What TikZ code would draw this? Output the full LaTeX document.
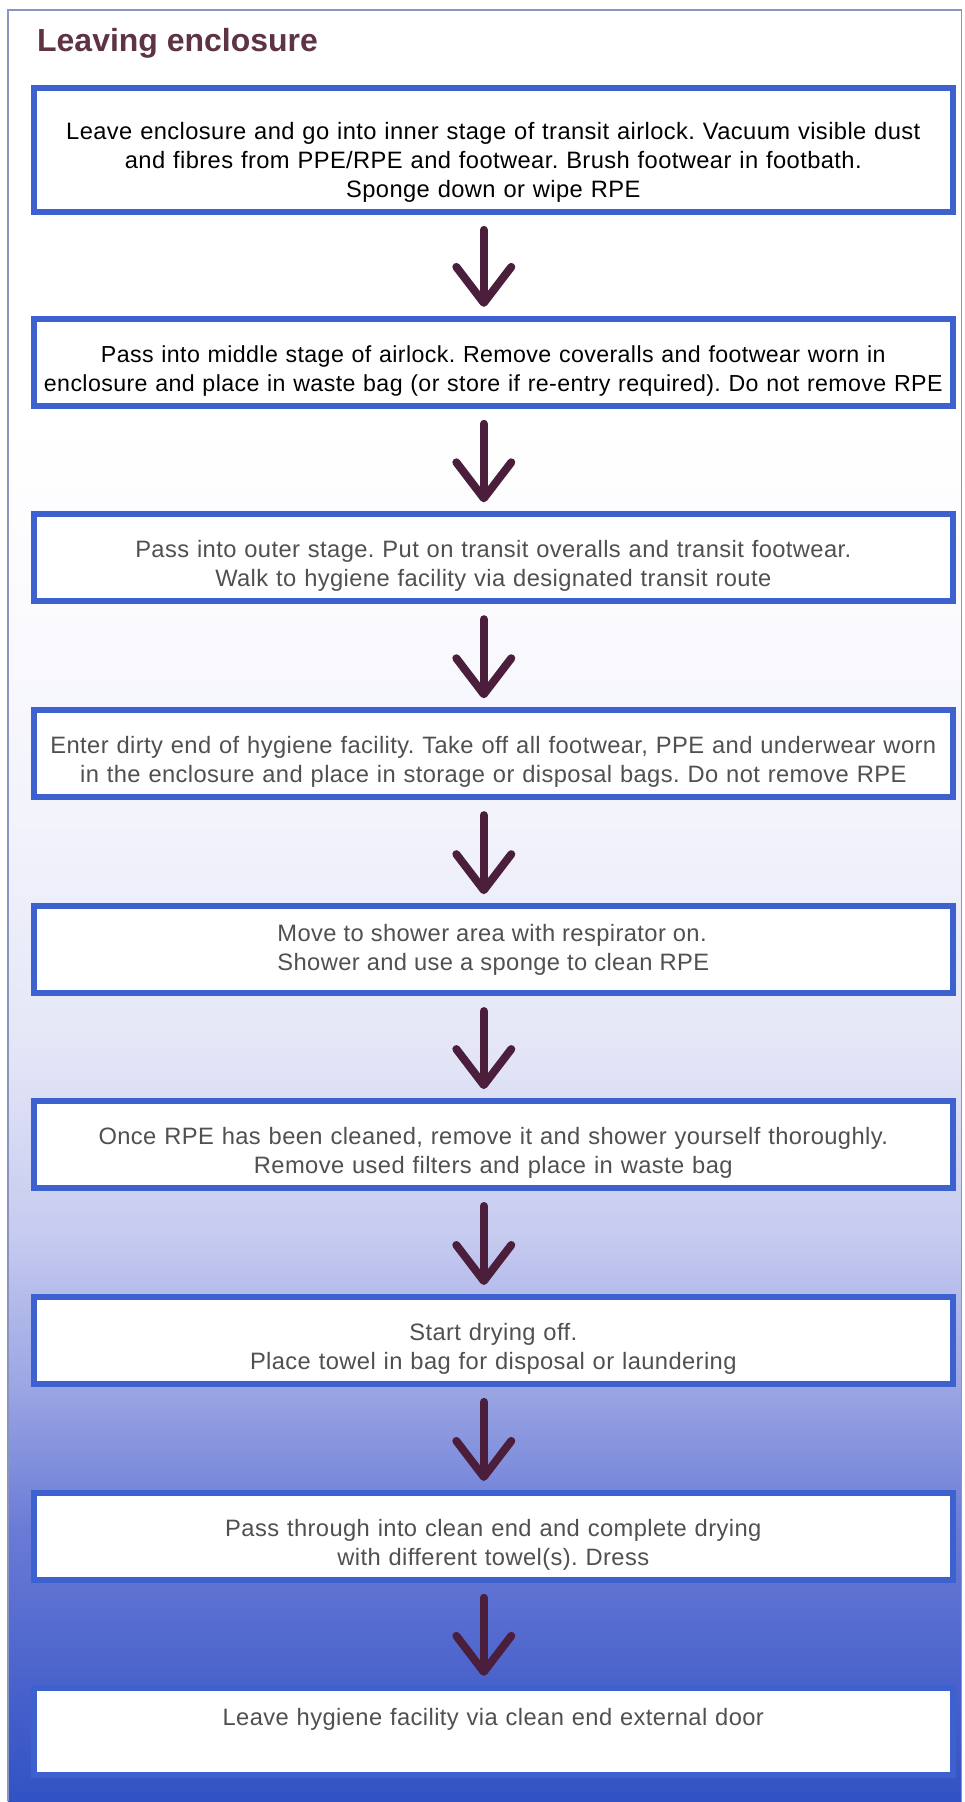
\documentclass[tikz,border=0pt]{standalone}
\usepackage{fontspec}
\setmainfont{Liberation Sans}
\newfontfamily\stepfont{Liberation Sans}[LetterSpace=1.7]
\usetikzlibrary{positioning}
\usetikzlibrary{arrows.meta}

\definecolor{boxblue}{HTML}{3D62D0}
\definecolor{arrowplum}{HTML}{4B1E3C}
\definecolor{titleplum}{HTML}{5E3345}
\definecolor{stepgray}{HTML}{505050}
\definecolor{framegray}{HTML}{8A95C0}
\definecolor{fadeA}{HTML}{3152C4}
\definecolor{fadeB}{HTML}{4A63CC}
\definecolor{fadeC}{HTML}{6A7BD6}
\definecolor{fadeD}{HTML}{9AA5E3}
\definecolor{fadeE}{HTML}{C5CAEF}
\definecolor{fadeF}{HTML}{E4E6F7}
\definecolor{fadeG}{HTML}{F2F3FB}
\definecolor{fadeH}{HTML}{FBFBFE}

% the path box is mapped onto 25bp..75bp of the shading
\pgfdeclareverticalshading{bgfade}{100bp}{color(0bp)=(fadeA); color(25bp)=(fadeA);
  color(28.4bp)=(fadeB); color(32.6bp)=(fadeC); color(36.5bp)=(fadeD);
  color(40.7bp)=(fadeE); color(46bp)=(fadeF); color(52.4bp)=(fadeG);
  color(58.5bp)=(fadeH); color(63.6bp)=(white); color(100bp)=(white)}

\begin{document}
\frenchspacing
\begin{tikzpicture}[x=0.02cm, y=-0.02cm,
  stepbox/.style={draw=boxblue, line width=0.12cm, fill=white, minimum width=18.38cm,
    text width=18.3cm, align=center, inner sep=0pt, font=\stepfont\fontsize{13.5}{16.5}\selectfont},
  tallbox/.style={stepbox, minimum height=2.48cm, execute at begin node=\rule{0pt}{23.5pt}},
  shortbox/.style={stepbox, minimum height=1.74cm},
  padded/.style={execute at begin node=\rule{0pt}{19pt}},
  greytext/.style={text=stepgray},
  flowarrow/.style={draw=arrowplum, line width=0.16cm, line cap=round,
    -{Straight Barb[length=0.72cm, width=1.1cm, line width=0.16cm, round]},
    shorten <=0.3cm, shorten >=0.18cm}]
 \fill[white] (0,0) rectangle (965,1802);
 \shade[shading=bgfade] (8,10) rectangle (962,1802);
 \draw[framegray, line width=0.03cm] (8,1802) -- (8,10) -- (962,10) -- (962,1802);
 \node[anchor=base west, text=titleplum, font=\fontsize{18.2}{20}\selectfont\bfseries] (title) at (31,52) {Leaving enclosure};
 \coordinate (ax) at (484,0);

 \node[tallbox] (s1) at (493.5,150) {Leave enclosure and go into inner stage of transit airlock. Vacuum visible dust\\ and fibres from PPE/RPE and footwear. Brush footwear in footbath.\\ Sponge down or wipe RPE};
 \node[shortbox, padded, font=\stepfont\fontsize{13.2}{16.5}\selectfont] (s2) at (493.5,362.5) {Pass into middle stage of airlock. Remove coveralls and footwear worn in\\ enclosure and place in waste bag (or store if re-entry required). Do not remove RPE};
 \node[shortbox, padded, greytext] (s3) at (493.5,558) {Pass into outer stage. Put on transit overalls and transit footwear.\\ Walk to hygiene facility via designated transit route};
 \node[shortbox, padded, greytext] (s4) at (493.5,754) {Enter dirty end of hygiene facility. Take off all footwear, PPE and underwear worn\\ in the enclosure and place in storage or disposal bags. Do not remove RPE};
 \node[shortbox, padded, greytext, text width=, align=left] (s5) at (493.5,950) {Move to shower area with respirator on.\\ Shower and use a sponge to clean RPE};
 \node[shortbox, padded, greytext] (s6) at (493.5,1145) {Once RPE has been cleaned, remove it and shower yourself thoroughly.\\ Remove used filters and place in waste bag};
 \node[shortbox, padded, greytext] (s7) at (493.5,1341) {Start drying off.\\ Place towel in bag for disposal or laundering};
 \node[shortbox, padded, greytext] (s8) at (493.5,1537) {Pass through into clean end and complete drying\\ with different towel(s). Dress};
 \node[shortbox, greytext] (s9) at (493.5,1732) {Leave hygiene facility via clean end external door\\ \mbox{}};

 \draw[flowarrow] (s1.south -| ax) -- (s2.north -| ax);
 \draw[flowarrow] (s2.south -| ax) -- (s3.north -| ax);
 \draw[flowarrow] (s3.south -| ax) -- (s4.north -| ax);
 \draw[flowarrow] (s4.south -| ax) -- (s5.north -| ax);
 \draw[flowarrow] (s5.south -| ax) -- (s6.north -| ax);
 \draw[flowarrow] (s6.south -| ax) -- (s7.north -| ax);
 \draw[flowarrow] (s7.south -| ax) -- (s8.north -| ax);
 \draw[flowarrow] (s8.south -| ax) -- (s9.north -| ax);
\end{tikzpicture}
\end{document}
